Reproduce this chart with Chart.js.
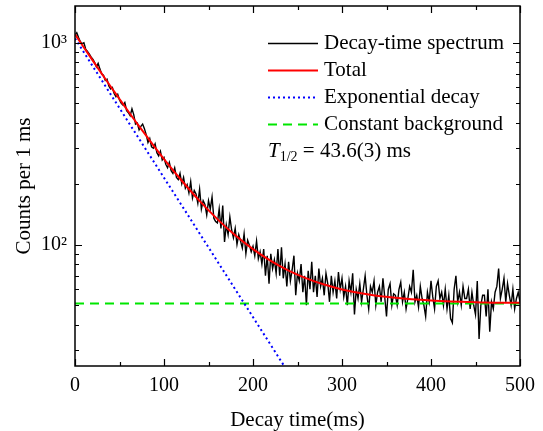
<!DOCTYPE html>
<html>
<head>
<meta charset="utf-8">
<script src="https://cdn.jsdelivr.net/npm/chart.js@4.4.1/dist/chart.umd.min.js"></script>
<style>
  html, body { margin: 0; padding: 0; background: #ffffff; }
  #wrap { width: 543px; height: 431px; }
</style>
</head>
<body>
<div id="wrap"><canvas id="myChart" width="543" height="431"></canvas></div>
<script>
// espectro de tiempo de decaimiento, bins de 2 ms
const binWidth = 2;
const spectrumCounts = [
  1090, 1120, 1060, 1010, 990, 1000, 930, 905, 880, 850,
  830, 800, 760, 790, 740, 700, 690, 650, 660, 610,
  590, 600, 560, 540, 555, 520, 500, 490, 505, 460,
  450, 435, 470, 440, 395, 400, 370, 385, 395, 375,
  350, 320, 335, 305, 300, 315, 285, 275, 290, 262,
  270, 250, 240, 255, 232, 225, 240, 215, 210, 225,
  200, 215, 190, 198, 180, 205, 170, 185, 178, 160,
  188, 150, 165, 158, 140, 165, 150, 172, 135, 130,
  128, 150, 120, 156, 103, 125, 112, 137, 118, 108,
  120, 100, 112, 104, 96, 113, 90, 105, 99, 92,
  98, 88, 104, 85, 92, 80, 95, 70, 88, 64,
  90, 76, 84, 72, 95, 70, 97, 68, 80, 62,
  82, 66, 75, 88, 56, 72, 66, 80, 58, 70,
  50, 74, 60, 82, 58, 70, 55, 76, 62, 68,
  56, 72, 64, 52, 70, 58, 66, 54, 73, 60,
  68, 55, 62, 50, 66, 58, 72, 45, 60, 54,
  64, 52, 60, 70, 56, 48, 62, 58, 66, 50,
  58, 62, 52, 68, 55, 44, 60, 64, 50, 57,
  56, 50, 60, 65, 52, 58, 48, 54, 62, 58,
  75, 52, 56, 49, 62, 54, 50, 44, 58, 52,
  66, 55, 48, 62, 66, 54, 58, 50, 60, 48,
  56, 43, 41, 60, 70, 52, 58, 50, 62, 54,
  54, 60, 48, 58, 50, 45, 66, 34, 50, 56,
  56, 44, 60, 37, 52, 48, 58, 62, 76, 54,
  60, 68, 52, 64, 56, 50, 60, 48, 54, 58,
  52
];

// curva del ajuste total
const fitTime = [0, 10, 20, 30, 40, 50, 60, 70, 80, 90, 100, 120, 140, 160, 180, 200, 220, 240, 260, 280, 300, 330, 360, 400, 450, 500];
const fitTotal = [1101, 947, 815, 703, 607, 526, 456, 396, 346, 302, 265, 207, 164.5, 133.6, 111, 94.8, 82.9, 74.2, 67.9, 63.3, 59.9, 56.5, 54.4, 52.8, 51.8, 51.4];

// componente exponencial
const expTime = [0, 60, 120, 180, 240];
const expCounts = [1050, 404, 156, 60, 23.1];

// fondo constante
const bgTime = [0, 500];
const bgCounts = [51, 51];

const xMajorTicks = [0, 100, 200, 300, 400, 500];
const xMinorTicks = [50, 150, 250, 350, 450];
const yMajorTicks = [100, 1000];
const yMinorTicks = [30, 40, 50, 60, 70, 80, 90, 200, 300, 400, 500, 600, 700, 800, 900];

const legendItems = [
  { text: "Decay-time spectrum", color: "#000000", width: 1.4, dash: [] },
  { text: "Total", color: "#ff0000", width: 2, dash: [] },
  { text: "Exponential decay", color: "#0000ff", width: 2, dash: [2, 3] },
  { text: "Constant background", color: "#00e600", width: 2, dash: [9, 6] }
];

const fontFamily = "'Liberation Serif', 'Times New Roman', serif";

function aPuntos(xs, ys) {
  return ys.map((y, i) => ({ x: xs[i], y: y }));
}

function datosEspectro() {
  return spectrumCounts.map((c, i) => ({ x: i * binWidth, y: c }));
}

// marco y ticks hacia adentro
const marcoPlugin = {
  id: "marco",
  afterDatasetsDraw(chart) {
    const ctx = chart.ctx;
    const a = chart.chartArea;
    const xs = chart.scales.x;
    const ys = chart.scales.y;
    ctx.save();
    ctx.strokeStyle = "#000";
    ctx.lineWidth = 1.5;
    ctx.setLineDash([]);
    ctx.strokeRect(a.left, a.top, a.right - a.left, a.bottom - a.top);

    function tickX(v, len) {
      const px = Math.round(xs.getPixelForValue(v)) + 0.5;
      ctx.beginPath();
      ctx.moveTo(px, a.bottom); ctx.lineTo(px, a.bottom - len);
      ctx.moveTo(px, a.top); ctx.lineTo(px, a.top + len);
      ctx.stroke();
    }
    function tickY(v, len) {
      const py = Math.round(ys.getPixelForValue(v)) + 0.5;
      ctx.beginPath();
      ctx.moveTo(a.left, py); ctx.lineTo(a.left + len, py);
      ctx.moveTo(a.right, py); ctx.lineTo(a.right - len, py);
      ctx.stroke();
    }
    ctx.lineWidth = 1.2;
    xMajorTicks.forEach(v => tickX(v, 7));
    xMinorTicks.forEach(v => tickX(v, 4));
    yMajorTicks.forEach(v => tickY(v, 7));
    yMinorTicks.forEach(v => tickY(v, 4));
    ctx.restore();
  }
};

// leyenda dentro del area del grafico
const leyendaPlugin = {
  id: "leyenda",
  afterDraw(chart) {
    const ctx = chart.ctx;
    const x0 = 268, x1 = 318, xt = 324;
    let y = 43;
    ctx.save();
    ctx.font = "21px " + fontFamily;
    ctx.textBaseline = "middle";
    ctx.fillStyle = "#000";
    legendItems.forEach(item => {
      ctx.strokeStyle = item.color;
      ctx.lineWidth = item.width;
      ctx.setLineDash(item.dash);
      ctx.beginPath();
      ctx.moveTo(x0, y + 0.5);
      ctx.lineTo(x1, y + 0.5);
      ctx.stroke();
      ctx.fillText(item.text, xt, y);
      y += 27;
    });
    // T1/2 = 43.6(3) ms
    ctx.setLineDash([]);
    ctx.font = "italic 21px " + fontFamily;
    ctx.fillText("T", 268, y);
    let w = ctx.measureText("T").width;
    ctx.font = "14px " + fontFamily;
    ctx.fillText("1/2", 268 + w, y + 6);
    w += ctx.measureText("1/2").width;
    ctx.font = "21px " + fontFamily;
    ctx.fillText(" = 43.6(3) ms", 268 + w, y);
    ctx.restore();
  }
};

function cargarGrafico() {
  const config = {
    type: "line",
    data: {
      datasets: [
        {
          label: "Decay-time spectrum",
          data: datosEspectro(),
          borderColor: "#000000",
          borderWidth: 1.4,
          pointRadius: 0,
          order: 4
        },
        {
          label: "Constant background",
          data: aPuntos(bgTime, bgCounts),
          borderColor: "#00e600",
          borderWidth: 2,
          borderDash: [9, 6],
          pointRadius: 0,
          order: 3
        },
        {
          label: "Exponential decay",
          data: aPuntos(expTime, expCounts),
          borderColor: "#0000ff",
          borderWidth: 2,
          borderDash: [2, 3],
          pointRadius: 0,
          order: 2
        },
        {
          label: "Total",
          data: aPuntos(fitTime, fitTotal),
          borderColor: "#ff0000",
          borderWidth: 2,
          pointRadius: 0,
          cubicInterpolationMode: "monotone",
          order: 1
        }
      ]
    },
    options: {
      responsive: false,
      animation: false,
      layout: { padding: { top: 6, right: 22, left: 0, bottom: 0 } },
      plugins: {
        legend: { display: false },
        tooltip: { enabled: false }
      },
      scales: {
        x: {
          type: "linear",
          min: 0,
          max: 500,
          grid: { display: false, drawTicks: false },
          border: { display: false },
          ticks: {
            stepSize: 100,
            padding: 8,
            color: "#000",
            font: { family: fontFamily, size: 20 },
            maxRotation: 0
          },
          title: {
            display: true,
            text: "Decay time(ms)",
            color: "#000",
            font: { family: fontFamily, size: 21 },
            padding: { top: 0, bottom: -2 }
          },
          afterFit(scale) { scale.height = 65; }
        },
        y: {
          type: "logarithmic",
          min: 25,
          max: 1520,
          grid: { display: false, drawTicks: false },
          border: { display: false },
          afterBuildTicks(scale) {
            scale.ticks = yMajorTicks.map(v => ({ value: v }));
          },
          ticks: {
            padding: 8,
            color: "#000",
            font: { family: fontFamily, size: 20 },
            callback: v => (v === 1000 ? "10\u00b3" : v === 100 ? "10\u00b2" : "")
          },
          title: {
            display: true,
            text: "Counts per 1 ms",
            color: "#000",
            font: { family: fontFamily, size: 21 },
            padding: { top: 12, bottom: 0 }
          },
          afterFit(scale) {
            scale.width = 75;
            scale.paddingTop = 0;
            scale.paddingBottom = 0;
          }
        }
      }
    },
    plugins: [marcoPlugin, leyendaPlugin]
  };
  new Chart(document.getElementById("myChart"), config);
}

cargarGrafico();
</script>
</body>
</html>
